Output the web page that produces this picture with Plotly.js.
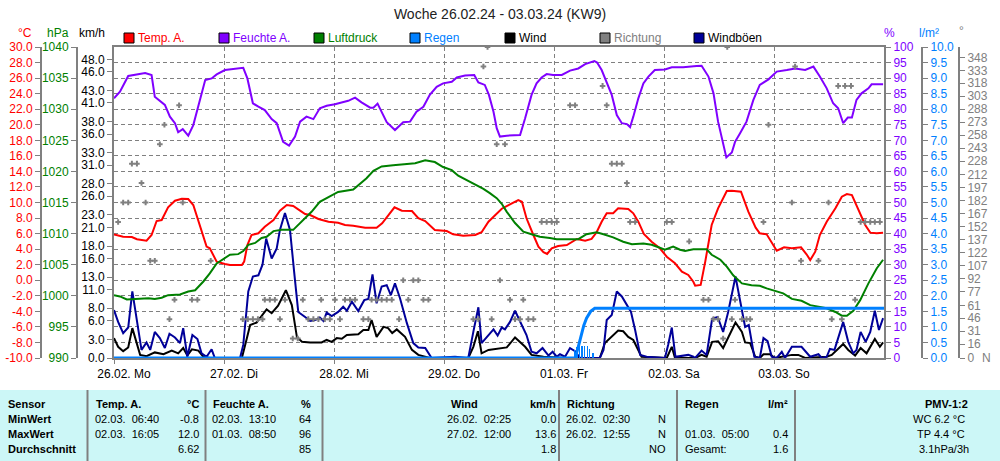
<!DOCTYPE html>
<html><head><meta charset="utf-8">
<script src="https://cdn.plot.ly/plotly-3.0.1.min.js"></script>
<style>html,body{margin:0;padding:0;background:#fff}#chart{width:1000px;height:461px}</style>
</head><body><div id="chart"></div>
<script>
// ---- data (x = hours since 26.02.24 00:00) ----
const dayTicks = [0,24,48,72,96,120,144];
const dayLabels = ['26.02. Mo','27.02. Di','28.02. Mi','29.02. Do','01.03. Fr','02.03. Sa','03.03. So'];
const kmhTicks = [0,3,6,8,11,13,16,18,21,23,26,28,31,33,36,38,41,43,46,48];
const degTicks = [0,16,31,46,61,77,92,107,122,137,152,167,182,197,212,228,243,258,273,288,303,318,333,348];

const temperature = [[0,5.9],[2.0,5.6],[3.9,5.56],[5.0,5.27],[7.1,5.09],[8.2,5.82],[9.3,7.62],[10.4,7.75],[11.8,9.38],[13.3,10.23],[14.8,10.49],[16.2,10.45],[17.3,9.68],[18.4,7.53],[19.5,5.4],[20.2,4.32],[20.9,4.11],[22.4,2.39],[24.2,2.09],[25.3,1.96],[27.9,1.96],[28.4,2.39],[29.1,4.53],[30.0,5.82],[31.5,6.04],[32.9,6.89],[34.8,7.75],[36.2,8.95],[37.7,9.68],[39.1,9.55],[40.6,8.95],[41.7,8.52],[42.8,8.39],[44.6,7.88],[46.8,7.53],[48.9,7.4],[50.4,7.11],[52.2,7.02],[54.8,6.76],[57.3,6.76],[58.5,7.32],[59.8,8.39],[61.2,9.38],[62.8,8.95],[65.0,8.91],[66.4,7.97],[67.9,7.62],[70.0,6.46],[72.6,6.33],[74.0,5.91],[76.2,5.73],[78.8,5.82],[80.2,6.17],[81.7,7.53],[83.1,8.3],[84.6,9.2],[86.4,9.77],[88.2,10.32],[89.0,10.1],[90.0,7.97],[91.5,5.82],[92.6,4.32],[93.7,3.6],[94.5,3.38],[95.5,4.11],[96.9,4.41],[98.8,4.53],[101.0,5.31],[102.8,5.09],[104.2,5.31],[105.3,6.17],[106.4,7.53],[107.5,8.61],[108.9,8.61],[110.0,9.25],[112.2,9.16],[113.3,8.61],[114.4,7.53],[115.6,5.95],[117.3,4.96],[119.1,4.11],[120.6,3.03],[122.4,2.18],[123.9,1.1],[125.3,0.68],[126.4,-0.19],[126.8,-0.7],[128.0,-0.6],[129.0,2.39],[130.4,7.11],[131.8,9.25],[133.7,11.48],[134.8,11.52],[136.8,11.39],[138.4,8.82],[140.0,6.76],[140.9,6.04],[142.4,5.91],[144.6,3.8],[146.2,4.24],[147.9,4.11],[149.9,4.24],[151.1,3.34],[151.9,2.6],[153.0,3.67],[154.0,5.82],[155.5,7.53],[157.4,9.25],[158.8,10.75],[159.9,11.09],[161.0,10.96],[162.4,9.03],[163.9,7.11],[165.0,6.12],[166.4,6.04],[167.8,6.12]];

const humidity = [[0,83.5],[1.3,85.6],[3.1,90.7],[5.0,91.2],[6.8,91.6],[8.2,91.0],[8.9,84.0],[11.1,81.4],[12.2,77.6],[13.3,75.5],[14.0,72.6],[15.0,73.6],[16.2,71.5],[17.3,74.9],[18.4,81.4],[19.9,89.4],[21.3,89.9],[22.4,91.2],[24.2,92.6],[26.4,92.9],[28.2,93.3],[29.1,89.9],[30.3,81.9],[31.5,80.8],[32.9,79.7],[34.4,76.8],[35.5,75.5],[36.9,69.5],[38.2,68.3],[39.5,71.2],[40.6,76.0],[42.0,77.6],[43.5,76.8],[44.9,80.3],[46.4,81.1],[48.2,81.6],[49.7,82.2],[51.1,82.7],[52.6,83.7],[54.0,82.2],[55.9,80.5],[56.6,80.5],[57.5,81.8],[58.4,79.2],[59.5,75.8],[61.3,73.3],[63.1,75.8],[64.6,76.0],[66.0,79.2],[67.5,80.8],[68.9,84.6],[70.4,87.2],[71.8,88.3],[73.7,88.8],[74.8,90.2],[76.6,90.8],[78.6,91.0],[79.5,88.6],[80.9,87.8],[81.8,84.6],[82.8,79.2],[83.5,73.9],[84.2,71.2],[85.7,71.5],[88.6,71.7],[89.7,77.1],[91.1,84.6],[92.2,88.3],[93.3,90.2],[94.4,91.3],[95.8,91.0],[97.7,91.0],[99.5,92.4],[101.3,93.1],[102.8,94.5],[104.8,95.5],[105.4,95.0],[106.4,92.6],[107.5,88.3],[108.6,84.6],[109.7,78.1],[110.8,75.5],[111.9,75.2],[112.6,74.2],[113.3,77.6],[114.4,83.5],[115.5,88.3],[116.6,90.5],[118.0,92.6],[120.2,92.8],[121.7,93.5],[124.2,93.5],[127.1,93.9],[128.2,94.0],[129.7,90.5],[130.8,85.1],[131.8,76.0],[132.9,68.5],[133.6,64.5],[134.8,66.1],[135.5,69.5],[136.6,72.3],[138.0,76.0],[139.5,83.0],[140.9,87.8],[142.8,89.6],[144.6,92.1],[146.8,92.6],[148.6,93.1],[150.8,92.6],[152.6,93.7],[154.0,90.5],[155.5,86.7],[156.9,81.9],[158.0,80.3],[159.1,75.5],[160.1,77.3],[161.0,77.3],[162.0,83.0],[163.1,85.1],[164.6,86.7],[165.3,88.0],[167.8,88.0]];

const pressure = [[0,1000.1],[1.3,999.9],[2.8,999.4],[5.0,999.5],[7.5,999.6],[8.9,999.5],[10.4,999.7],[11.8,1000.1],[14.4,1000.2],[16.2,1000.7],[17.7,1000.9],[19.5,1002.3],[20.9,1003.6],[22.4,1005.2],[24.2,1006.0],[25.3,1006.6],[27.1,1006.7],[28.2,1007.2],[29.3,1008.2],[30.8,1008.5],[32.2,1009.3],[33.3,1009.5],[34.8,1010.4],[36.6,1010.6],[39.1,1010.6],[40.2,1011.4],[41.7,1012.5],[43.1,1013.5],[44.9,1015.1],[46.8,1015.9],[48.9,1016.7],[52.2,1017.1],[53.7,1018.1],[55.1,1018.9],[56.6,1020.1],[58.4,1020.8],[60.9,1021.0],[64.2,1021.2],[65.7,1021.3],[67.9,1021.8],[70.0,1021.5],[71.8,1020.7],[73.7,1020.2],[75.1,1019.3],[77.0,1018.6],[78.8,1017.9],[80.6,1017.2],[82.0,1016.5],[83.5,1015.7],[84.6,1014.8],[85.7,1013.5],[87.5,1011.7],[89.3,1010.3],[91.1,1009.9],[92.9,1009.5],[95.1,1009.3],[96.6,1009.1],[98.8,1009.1],[101.3,1009.1],[103.1,1009.9],[105.3,1010.2],[106.8,1009.9],[108.9,1009.4],[111.1,1008.7],[113.0,1008.3],[115.5,1008.4],[117.3,1008.2],[118.8,1007.8],[120.2,1007.4],[122.0,1007.9],[123.5,1007.4],[124.6,1007.2],[126.4,1007.5],[129.3,1007.5],[130.4,1006.6],[132.3,1005.8],[133.7,1004.7],[135.1,1003.3],[137.0,1002.0],[139.1,1001.7],[140.9,1001.6],[142.4,1001.2],[144.6,1000.7],[146.0,1000.4],[147.9,999.5],[150.0,999.2],[151.9,998.5],[153.7,998.2],[155.5,998.0],[157.4,997.4],[158.8,996.8],[159.9,996.8],[161.3,997.6],[162.8,999.3],[164.6,1002.0],[166.4,1004.4],[167.8,1005.8]];

const wind = [[0,3.2],[0.9,1.8],[2.0,1.1],[3.1,1.7],[4.0,4.8],[4.8,2.6],[5.7,0.5],[7.1,0.3],[8.9,0.9],[10.8,0.6],[12.6,1.2],[14.0,0.75],[15.1,1.6],[16.0,0.4],[17.0,1.4],[18.4,1.2],[19.5,0.2],[20.9,0],[27.9,0],[29.0,3.2],[29.7,5.3],[31.1,5.7],[33.3,7.8],[34.4,7.2],[35.8,8.4],[37.5,10.9],[38.8,8.5],[39.9,3.4],[41.0,2.6],[42.8,2.5],[45.3,2.5],[46.4,2.9],[47.5,2.6],[48.6,3.2],[49.7,3.1],[50.8,3.7],[53.3,3.8],[54.4,4.5],[55.5,4.5],[56.2,6.1],[57.3,3.4],[58.8,5.0],[59.8,4.8],[60.7,4.0],[61.7,4.6],[63.5,3.4],[65.0,1.3],[66.4,0.5],[68.9,0],[77.3,0],[78.4,1.8],[79.4,4.3],[80.2,0.75],[81.7,1.3],[83.1,1.45],[84.2,1.6],[85.7,1.7],[87.5,3.3],[88.6,2.6],[89.7,1.8],[91.1,0.5],[93.7,0.2],[98.8,0],[106.0,0],[107.1,2.4],[108.6,3.4],[110.0,4.4],[111.1,4.3],[112.2,3.4],[113.3,2.9],[114.4,1.3],[115.1,0.2],[120.6,0],[121.2,1.0],[121.7,1.8],[122.4,0],[126.8,0],[128.2,0.5],[129.3,0.2],[130.5,2.6],[131.8,2.7],[132.9,1.6],[134.0,3.2],[135.6,5.7],[137.0,4.2],[137.7,2.5],[138.8,2.4],[139.9,0.2],[140.9,0],[141.7,0.6],[143.1,0.6],[144.2,0],[147.9,0.5],[149.3,0.5],[150.8,0],[155.5,0.2],[156.6,0.5],[157.7,1.3],[159.1,2.25],[160.2,1.3],[161.7,0.4],[162.9,1.6],[164.2,0.75],[166.0,3.05],[167.1,1.8],[167.8,2.5]];

const gusts = [[0,7.7],[0.9,5.8],[2.0,4.0],[3.1,4.9],[4.0,10.7],[5.0,5.8],[6.0,1.3],[7.1,2.5],[7.9,1.3],[8.9,4.2],[10.0,3.2],[11.1,1.6],[12.1,3.9],[13.3,3.3],[14.4,2.4],[15.1,4.8],[16.0,0.2],[17.1,3.7],[18.2,3.05],[19.1,0.75],[20.2,0.2],[21.3,1.4],[22.0,0],[27.5,0],[28.2,2.1],[29.3,10.7],[30.3,13.1],[31.5,13.3],[32.4,15.0],[33.2,19.2],[34.4,16.0],[35.5,17.6],[36.2,20.6],[37.3,23.3],[38.4,20.6],[39.3,13.9],[40.2,7.4],[41.7,6.6],[42.8,5.95],[43.9,6.1],[44.9,6.5],[45.7,5.95],[46.4,7.3],[47.5,6.75],[48.9,7.4],[50.0,8.25],[50.8,7.6],[51.9,9.05],[53.3,7.56],[54.6,9.3],[55.5,9.5],[56.4,13.45],[57.3,8.8],[58.4,11.5],[59.5,11.7],[60.4,10.1],[61.3,12.0],[62.4,9.6],[63.9,5.6],[65.3,2.4],[66.4,1.7],[67.9,1.6],[69.3,0],[74.4,0.2],[77.3,0],[78.4,4.2],[79.5,8.15],[80.2,2.4],[81.7,3.7],[82.8,4.6],[83.7,3.6],[84.6,4.9],[85.3,4.6],[86.4,5.8],[87.5,7.6],[88.6,5.8],[90.0,3.7],[91.1,1.0],[92.2,0.75],[93.5,1.6],[94.8,0.4],[95.7,1.0],[96.6,0.2],[97.3,0.6],[98.4,0.2],[99.5,1.6],[100.6,1.1],[101.7,0],[106.0,0],[106.8,1.3],[107.5,6.1],[108.6,6.9],[109.7,10.7],[110.8,9.9],[111.9,8.5],[112.8,7.4],[113.7,4.5],[114.8,0.5],[116.2,0.2],[120.2,0],[120.9,2.1],[121.7,4.9],[122.5,0.2],[125.3,0.5],[126.4,0.2],[126.8,0],[128.2,1.2],[129.3,0.5],[130.5,6.3],[131.7,6.6],[132.9,4.2],[134.0,7.4],[135.6,13.1],[137.0,8.0],[137.7,5.0],[138.5,5.3],[139.7,0.2],[140.9,0],[141.7,3.2],[142.6,2.7],[143.5,0.2],[144.6,0],[145.7,1.0],[146.4,0],[147.9,1.8],[150.0,1.8],[151.9,0.2],[153.7,0.6],[154.4,0],[155.5,0.2],[156.2,1.45],[157.2,1.3],[158.0,3.2],[159.1,5.8],[160.2,2.6],[161.3,0.75],[162.0,1.3],[162.9,4.2],[164.0,2.6],[165.0,4.2],[166.0,7.6],[166.9,4.5],[167.8,6.4]];

const direction = [[0.9,157.5],[2.0,180],[3.1,180],[3.9,225],[5.0,225],[6.0,202.5],[6.9,180],[7.9,112.5],[8.9,112.5],[10.0,247.5],[11.0,270],[12.1,45],[13.2,67.5],[14.2,292.5],[15.0,180],[17.0,67.5],[18.2,67.5],[21.1,112.5],[28.1,45],[29.2,45],[30.3,45],[31.4,45],[32.4,45],[32.9,67.5],[34.0,67.5],[35.1,67.5],[36.2,45],[37.3,67.5],[39.0,22.5],[40.1,22.5],[41.2,67.5],[42.4,45],[43.5,45],[44.6,45],[45.2,67.5],[46.0,45],[47.1,45],[48.2,67.5],[49.3,45],[50.4,67.5],[51.5,67.5],[52.6,67.5],[54.4,45],[55.5,45],[56.2,67.5],[57.3,67.5],[58.4,67.5],[59.5,67.5],[60.6,67.5],[62.2,45],[63.1,90],[64.2,67.5],[65.3,90],[66.4,90],[67.5,67.5],[68.6,67.5],[78.4,45],[79.5,45],[80.6,337.5],[81.5,360],[82.4,45],[83.5,247.5],[84.2,90],[85.3,247.5],[86.4,67.5],[87.5,45],[88.6,45],[89.3,67.5],[90.4,45],[91.5,45],[93.3,157.5],[94.4,157.5],[95.5,157.5],[96.6,157.5],[99.5,292.5],[100.6,292.5],[106.6,315],[107.5,292.5],[108.6,225],[109.7,225],[110.8,225],[111.9,202.5],[112.6,157.5],[113.7,157.5],[120.6,157.5],[121.7,157.5],[125.5,135],[128.6,67.5],[129.7,67.5],[130.8,45],[131.8,45],[132.9,22.5],[133.8,360],[134.8,45],[135.5,67.5],[137.0,45],[138.0,45],[138.8,45],[141.7,157.5],[142.8,270],[147.9,180],[148.6,337.5],[149.9,112.5],[153.7,112.5],[155.9,180],[156.6,45],[158.0,315],[158.8,45],[159.5,315],[160.8,315],[161.7,67.5],[162.9,157.5],[163.9,157.5],[165.0,157.5],[166.0,157.5],[167.1,157.5]];

const rainTotal = [[0,0],[100.6,0],[101.2,0.3],[101.9,0.74],[102.5,1.05],[103.1,1.28],[104.0,1.5],[104.9,1.6],[168,1.6]];
const rainRate = [[100.5,0.25],[101.0,0.35],[101.6,0.4],[102.1,0.4],[102.7,0.4],[103.3,0.4],[103.8,0.3],[104.5,0.15]];

// ---- drawing ----
const F = 'Liberation Sans, Arial, sans-serif';
const GRAY = '#808080', RED = '#ff0000', PURPLE = '#8000ff', GREEN = '#008000', BLUE = '#0080ff', NAVY = '#000099';
const xs = a => a.map(p => p[0]), ys = a => a.map(p => p[1]);
const W = 1000, H = 461;
const px = x => x / W, py = y => (H - y) / H;

const line = (d, yaxis, color, width) => ({type:'scatter', mode:'lines', x:xs(d), y:ys(d), yaxis, line:{color, width, shape:'linear'}, hoverinfo:'skip'});
const traces = [
  line(wind, 'y', '#000000', 2),
  line(gusts, 'y', NAVY, 2),
  line(temperature, 'y2', RED, 2),
  line(pressure, 'y3', GREEN, 2),
  line(humidity, 'y4', PURPLE, 2),
  {type:'bar', x:xs(rainRate), y:ys(rainRate), yaxis:'y5', width:0.3, marker:{color:BLUE, line:{width:0}}, hoverinfo:'skip'},
  line(rainTotal, 'y5', BLUE, 3),
  {type:'scatter', mode:'markers', x:xs(direction), y:ys(direction), yaxis:'y6', marker:{symbol:'cross-thin', size:4, color:GRAY, line:{width:2, color:GRAY}}, hoverinfo:'skip', cliponaxis:true}
];

const dom = [103/461, 414/461];
const base = {domain:dom, showgrid:false, zeroline:false, showline:true, linecolor:GRAY, linewidth:2,
  ticks:'outside', ticklen:5, tickcolor:GRAY, tickwidth:1, fixedrange:true};
const txt = (vals, dec) => vals.map(v => v.toFixed(dec));
const range = (a, b, s) => { const r = []; for (let v = a; v <= b + 1e-9; v += s) r.push(+v.toFixed(3)); return r; };
const tempTicks = range(-10, 30, 2), hpaTicks = range(990, 1040, 5), pctTicks = range(0, 100, 5), rainTicks = range(0, 10, 0.5);

const annotations = [];
const shapes = [];
function T(x, y, text, color, anchor, size, extra) {
  annotations.push(Object.assign({xref:'paper', yref:'paper', x:px(x), y:py(y), text, showarrow:false,
    xanchor:anchor || 'left', yanchor:'middle', font:{family:F, size:size || 12, color:color || '#000'}}, extra || {}));
}
// axis titles
T(25, 33, '°C', RED, 'center');
T(58, 33, 'hPa', GREEN, 'center');
T(92, 33, 'km/h', '#000', 'center');
T(889, 33, '%', PURPLE, 'center');
T(929, 33, 'l/m²', BLUE, 'center');
T(961, 31, '°', GRAY, 'center');
T(986, 358, 'N', GRAY, 'center');
// legend
const legend = [['Temp. A.', RED, RED, 124], ['Feuchte A.', PURPLE, PURPLE, 219], ['Luftdruck', GREEN, GREEN, 314],
  ['Regen', BLUE, BLUE, 410], ['Wind', '#000', '#000', 505], ['Richtung', GRAY, GRAY, 600], ['Windböen', NAVY, '#000', 694]];
legend.forEach(([name, fill, tc, x0]) => {
  shapes.push({type:'rect', xref:'paper', yref:'paper', x0:px(x0), x1:px(x0 + 10), y0:py(43), y1:py(33), fillcolor:fill, line:{color:'#000', width:1}});
  T(x0 + 12, 38, name, tc, 'left');
});
// table
shapes.push({type:'rect', xref:'paper', yref:'paper', x0:0, x1:1, y0:0, y1:py(390), fillcolor:'#ccf7f7', line:{width:0}, layer:'below'});
[87.5, 205.5, 322.5, 559, 677, 795].forEach(x => shapes.push({type:'line', xref:'paper', yref:'paper', x0:px(x), x1:px(x), y0:0, y1:py(390), line:{color:GRAY, width:2}}));
const rows = [404, 419, 434, 449];
const B = s => '<b>' + s + '</b>';
const S = 11;
['Sensor', 'MinWert', 'MaxWert', 'Durchschnitt'].forEach((s, i) => T(6, rows[i], B(s), '#000', 'left', S));
T(94, rows[0], B('Temp. A.'), '#000', 'left', S); T(201, rows[0], B('°C'), '#000', 'right', S);
T(93, rows[1], '02.03.\u00a0 06:40', '#000', 'left', S); T(201, rows[1], '-0.8', '#000', 'right', S);
T(93, rows[2], '02.03.\u00a0 16:05', '#000', 'left', S); T(201, rows[2], '12.0', '#000', 'right', S);
T(201, rows[3], '6.62', '#000', 'right', S);
T(211, rows[0], B('Feuchte A.'), '#000', 'left', S); T(313, rows[0], B('%'), '#000', 'right', S);
T(210, rows[1], '02.03.\u00a0 13:10', '#000', 'left', S); T(313, rows[1], '64', '#000', 'right', S);
T(210, rows[2], '01.03.\u00a0 08:50', '#000', 'left', S); T(313, rows[2], '96', '#000', 'right', S);
T(313, rows[3], '85', '#000', 'right', S);
T(480, rows[0], B('Wind'), '#000', 'right', S); T(558, rows[0], B('km/h'), '#000', 'right', S);
T(445, rows[1], '26.02.\u00a0 02:25', '#000', 'left', S); T(558, rows[1], '0.0', '#000', 'right', S);
T(445, rows[2], '27.02.\u00a0 12:00', '#000', 'left', S); T(558, rows[2], '13.6', '#000', 'right', S);
T(558, rows[3], '1.8', '#000', 'right', S);
T(565, rows[0], B('Richtung'), '#000', 'left', S);
T(564, rows[1], '26.02.\u00a0 02:30', '#000', 'left', S); T(668, rows[1], 'N', '#000', 'right', S);
T(564, rows[2], '26.02.\u00a0 12:55', '#000', 'left', S); T(668, rows[2], 'N', '#000', 'right', S);
T(668, rows[3], 'NO', '#000', 'right', S);
T(683, rows[0], B('Regen'), '#000', 'left', S); T(790, rows[0], B('l/m²'), '#000', 'right', S);
T(683, rows[2], '01.03.\u00a0 05:00', '#000', 'left', S); T(790, rows[2], '0.4', '#000', 'right', S);
T(683, rows[3], 'Gesamt:', '#000', 'left', S); T(790, rows[3], '1.6', '#000', 'right', S);
T(970, rows[0], B('PMV-1:2'), '#000', 'right', S);
T(967, rows[1], 'WC 6.2 °C', '#000', 'right', S);
T(967, rows[2], 'TP 4.4 °C', '#000', 'right', S);
T(971, rows[3], '3.1hPa/3h', '#000', 'right', S);

const layout = {
  width:W, height:H, margin:{l:0, r:0, t:0, b:0}, paper_bgcolor:'#fff', plot_bgcolor:'#fff', showlegend:false,
  font:{family:F, size:12, color:'#000'}, bargap:0,
  title:{text:'Woche 26.02.24 - 03.03.24 (KW9)', x:0.5, xanchor:'center', y:1 - 14 / H, yanchor:'middle', font:{family:F, size:14, color:'#222'}},
  xaxis:{domain:[0.114, 0.884], range:[0, 168], tickvals:dayTicks, ticktext:dayLabels, ticks:'outside', ticklen:4, tickcolor:GRAY,
    showgrid:true, gridcolor:GRAY, gridwidth:1, griddash:'4px,3px', showline:true, mirror:true, linecolor:GRAY, linewidth:2,
    zeroline:false, ticklabelshift:10, tickfont:{family:F, size:12, color:'#000'}, fixedrange:true},
  yaxis:Object.assign({}, base, {anchor:'x', side:'left', range:[0, 50], tickvals:kmhTicks, ticktext:txt(kmhTicks, 1), tickfont:{family:F, size:12, color:'#000'}}),
  yaxis2:Object.assign({}, base, {overlaying:'y', anchor:'free', position:0.041, side:'left', range:[-10, 30], tickvals:tempTicks, ticktext:txt(tempTicks, 1), tickfont:{family:F, size:12, color:RED}}),
  yaxis3:Object.assign({}, base, {overlaying:'y', anchor:'free', position:0.077, side:'left', range:[990, 1040], tickvals:hpaTicks, ticktext:txt(hpaTicks, 0), tickfont:{family:F, size:12, color:GREEN}}),
  yaxis4:Object.assign({}, base, {overlaying:'y', anchor:'x', side:'right', range:[0, 100], tickvals:pctTicks, ticktext:txt(pctTicks, 0), tickfont:{family:F, size:12, color:PURPLE},
    showgrid:true, gridcolor:GRAY, gridwidth:1, griddash:'4px,3px'}),
  yaxis5:Object.assign({}, base, {overlaying:'y', anchor:'free', position:0.922, side:'right', range:[0, 10], tickvals:rainTicks, ticktext:txt(rainTicks, 1), tickfont:{family:F, size:12, color:BLUE}}),
  yaxis6:Object.assign({}, base, {overlaying:'y', anchor:'free', position:0.959, side:'right', range:[0, 360], tickvals:degTicks, ticktext:degTicks.map(String), tickfont:{family:F, size:12, color:GRAY}}),
  annotations, shapes
};
Plotly.newPlot('chart', traces, layout, {staticPlot:true, displayModeBar:false});
</script>
</body></html>
